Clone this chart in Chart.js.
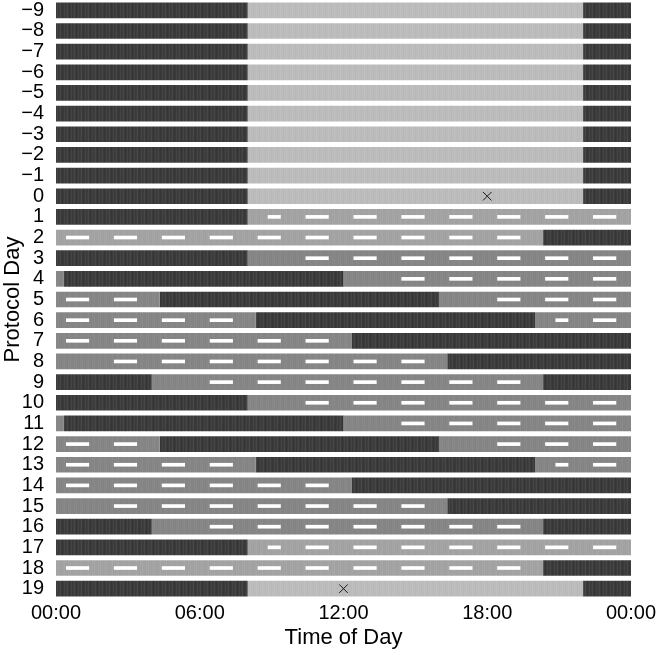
<!DOCTYPE html>
<html>
<head>
<meta charset="utf-8">
<script src="https://cdn.jsdelivr.net/npm/chart.js@4"></script>
<style>
  body { margin: 0; background: #fff; }
  #wrap { width: 656px; height: 655px; }
</style>
</head>
<body>
<div id="wrap"><canvas id="myChart"></canvas></div>
<script>
// protocol days, top to bottom
var days = ['\u22129', '\u22128', '\u22127', '\u22126', '\u22125', '\u22124', '\u22123', '\u22122', '\u22121',
  '0', '1', '2', '3', '4', '5', '6', '7', '8', '9', '10', '11', '12', '13', '14', '15', '16', '17', '18', '19'];

// time of day axis
var xTickLabels = ['00:00', '06:00', '12:00', '18:00', '00:00'];

// [start hour, end hour, state]  S = sleep, B = baseline wake, D = dim wake, M = protocol wake
var periods = [
  [[0, 8, 'S'], [8, 22, 'B'], [22, 24, 'S']],
  [[0, 8, 'S'], [8, 22, 'B'], [22, 24, 'S']],
  [[0, 8, 'S'], [8, 22, 'B'], [22, 24, 'S']],
  [[0, 8, 'S'], [8, 22, 'B'], [22, 24, 'S']],
  [[0, 8, 'S'], [8, 22, 'B'], [22, 24, 'S']],
  [[0, 8, 'S'], [8, 22, 'B'], [22, 24, 'S']],
  [[0, 8, 'S'], [8, 22, 'B'], [22, 24, 'S']],
  [[0, 8, 'S'], [8, 22, 'B'], [22, 24, 'S']],
  [[0, 8, 'S'], [8, 22, 'B'], [22, 24, 'S']],
  [[0, 8, 'S'], [8, 22, 'B'], [22, 24, 'S']],
  [[0, 8, 'S'], [8, 24, 'D']],
  [[0, 20.33, 'D'], [20.33, 24, 'S']],
  [[0, 8, 'S'], [8, 24, 'M']],
  [[0, 0.33, 'M'], [0.33, 12, 'S'], [12, 24, 'M']],
  [[0, 4.33, 'M'], [4.33, 16, 'S'], [16, 24, 'M']],
  [[0, 8.33, 'M'], [8.33, 20, 'S'], [20, 24, 'M']],
  [[0, 12.33, 'M'], [12.33, 24, 'S']],
  [[0, 16.33, 'M'], [16.33, 24, 'S']],
  [[0, 4, 'S'], [4, 20.33, 'M'], [20.33, 24, 'S']],
  [[0, 8, 'S'], [8, 24, 'M']],
  [[0, 0.33, 'M'], [0.33, 12, 'S'], [12, 24, 'M']],
  [[0, 4.33, 'M'], [4.33, 16, 'S'], [16, 24, 'M']],
  [[0, 8.33, 'M'], [8.33, 20, 'S'], [20, 24, 'M']],
  [[0, 12.33, 'M'], [12.33, 24, 'S']],
  [[0, 16.33, 'M'], [16.33, 24, 'S']],
  [[0, 4, 'S'], [4, 20.33, 'M'], [20.33, 24, 'S']],
  [[0, 8, 'S'], [8, 24, 'D']],
  [[0, 20.33, 'D'], [20.33, 24, 'S']],
  [[0, 8, 'S'], [8, 22, 'B'], [22, 24, 'S']]
];

// white dashes inside the wake periods [start hour, end hour]
var dashes = [
  [], [], [], [], [], [], [], [], [], [],
  [[8.85, 9.37], [10.43, 11.37], [12.43, 13.37], [14.43, 15.37], [16.43, 17.37], [18.43, 19.37], [20.43, 21.37], [22.43, 23.37]],
  [[0.43, 1.37], [2.43, 3.37], [4.43, 5.37], [6.43, 7.37], [8.43, 9.37], [10.43, 11.37], [12.43, 13.37], [14.43, 15.37], [16.43, 17.37], [18.43, 19.37]],
  [[10.43, 11.37], [12.43, 13.37], [14.43, 15.37], [16.43, 17.37], [18.43, 19.37], [20.43, 21.37], [22.43, 23.37]],
  [[14.43, 15.37], [16.43, 17.37], [18.43, 19.37], [20.43, 21.37], [22.43, 23.37]],
  [[0.43, 1.37], [2.43, 3.37], [18.43, 19.37], [20.43, 21.37], [22.43, 23.37]],
  [[0.43, 1.37], [2.43, 3.37], [4.43, 5.37], [6.43, 7.37], [20.86, 21.37], [22.43, 23.37]],
  [[0.43, 1.37], [2.43, 3.37], [4.43, 5.37], [6.43, 7.37], [8.43, 9.37], [10.43, 11.37]],
  [[2.43, 3.37], [4.43, 5.37], [6.43, 7.37], [8.43, 9.37], [10.43, 11.37], [12.43, 13.37], [14.43, 15.37]],
  [[6.43, 7.37], [8.43, 9.37], [10.43, 11.37], [12.43, 13.37], [14.43, 15.37], [16.43, 17.37], [18.43, 19.37]],
  [[10.43, 11.37], [12.43, 13.37], [14.43, 15.37], [16.43, 17.37], [18.43, 19.37], [20.43, 21.37], [22.43, 23.37]],
  [[14.43, 15.37], [16.43, 17.37], [18.43, 19.37], [20.43, 21.37], [22.43, 23.37]],
  [[0.43, 1.37], [2.43, 3.37], [18.43, 19.37], [20.43, 21.37], [22.43, 23.37]],
  [[0.43, 1.37], [2.43, 3.37], [4.43, 5.37], [6.43, 7.37], [20.86, 21.37], [22.43, 23.37]],
  [[0.43, 1.37], [2.43, 3.37], [4.43, 5.37], [6.43, 7.37], [8.43, 9.37], [10.43, 11.37]],
  [[2.43, 3.37], [4.43, 5.37], [6.43, 7.37], [8.43, 9.37], [10.43, 11.37], [12.43, 13.37], [14.43, 15.37]],
  [[6.43, 7.37], [8.43, 9.37], [10.43, 11.37], [12.43, 13.37], [14.43, 15.37], [16.43, 17.37], [18.43, 19.37]],
  [[8.85, 9.37], [10.43, 11.37], [12.43, 13.37], [14.43, 15.37], [16.43, 17.37], [18.43, 19.37], [20.43, 21.37], [22.43, 23.37]],
  [[0.43, 1.37], [2.43, 3.37], [4.43, 5.37], [6.43, 7.37], [8.43, 9.37], [10.43, 11.37], [12.43, 13.37], [14.43, 15.37], [16.43, 17.37], [18.43, 19.37]],
  []
];

// x marks: [hour, day]
var markers = [[18, '0'], [12, '19']];

// striped fill like the original raster
function stripes(cols) {
  var c = document.createElement('canvas');
  c.width = cols.length;
  c.height = 4;
  var g = c.getContext('2d');
  for (var i = 0; i < cols.length; i++) {
    g.fillStyle = cols[i];
    g.fillRect(i, 0, 1, 4);
  }
  return g.createPattern(c, 'repeat');
}

var fills = {
  S: stripes(['#3b3b3b', '#444444', '#393939', '#3e3e3e', '#474747', '#3a3a3a', '#363636']),
  B: stripes(['#bcbcbc', '#b8b8b8', '#bdbdbd', '#bababa', '#c0c0c0', '#bbbbbb']),
  D: stripes(['#a3a3a3', '#a0a0a0', '#a5a5a5', '#a2a2a2', '#a7a7a7', '#a1a1a1']),
  M: stripes(['#868686', '#838383', '#888888', '#858585', '#8a8a8a', '#848484'])
};

var datasets = [];
for (var s = 0; s < 3; s++) {
  datasets.push({
    type: 'bar',
    data: periods.map(function (p) { return p[s] ? [p[s][0], p[s][1]] : null; }),
    backgroundColor: periods.map(function (p) { return p[s] ? fills[p[s][2]] : 'rgba(0,0,0,0)'; }),
    borderWidth: 0,
    grouped: false,
    barPercentage: 0.76,
    categoryPercentage: 1,
    order: 3
  });
}

var maxDash = Math.max.apply(null, dashes.map(function (d) { return d.length; }));
for (var j = 0; j < maxDash; j++) {
  datasets.push({
    type: 'bar',
    data: dashes.map(function (d) { return d[j] ? d[j] : null; }),
    backgroundColor: '#ffffff',
    borderWidth: 0,
    grouped: false,
    barThickness: 3,
    order: 2
  });
}

datasets.push({
  type: 'scatter',
  data: markers.map(function (m) { return { x: m[0], y: m[1] }; }),
  pointStyle: 'crossRot',
  pointRadius: 6,
  borderColor: '#1a1a1a',
  borderWidth: 1,
  order: 1
});

Chart.defaults.font.family = "'Liberation Sans', Arial, sans-serif";
Chart.defaults.color = '#000';

var ctx = document.getElementById('myChart').getContext('2d');
var myChart = new Chart(ctx, {
  type: 'bar',
  data: {
    labels: days,
    datasets: datasets
  },
  options: {
    indexAxis: 'y',
    responsive: true,
    maintainAspectRatio: false,
    animation: false,
    layout: {
      autoPadding: false,
      padding: { top: 0, right: 25, left: 0, bottom: 0 }
    },
    plugins: {
      legend: { display: false },
      tooltip: { enabled: false }
    },
    scales: {
      x: {
        type: 'linear',
        min: 0,
        max: 24,
        grid: { display: false, drawTicks: false },
        border: { display: false },
        ticks: {
          stepSize: 6,
          padding: 2,
          font: { size: 20 },
          color: '#000',
          maxRotation: 0,
          callback: function (value, i) { return xTickLabels[i]; }
        },
        title: {
          display: true,
          text: 'Time of Day',
          font: { size: 22 },
          color: '#000',
          padding: { top: 0, bottom: 4 }
        },
        afterFit: function (scale) {
          scale.height = 56;
          scale.paddingLeft = 0;
          scale.paddingRight = 0;
        }
      },
      y: {
        grid: { display: false, drawTicks: false },
        border: { display: false },
        ticks: {
          padding: 12,
          autoSkip: false,
          font: { size: 20 },
          color: '#000'
        },
        title: {
          display: true,
          text: 'Protocol Day',
          font: { size: 22 },
          color: '#000',
          padding: { top: 0, bottom: 0 }
        },
        afterFit: function (scale) {
          scale.width = 56;
          scale.paddingTop = 0;
          scale.paddingBottom = 0;
        }
      }
    }
  }
});
</script>
</body>
</html>
